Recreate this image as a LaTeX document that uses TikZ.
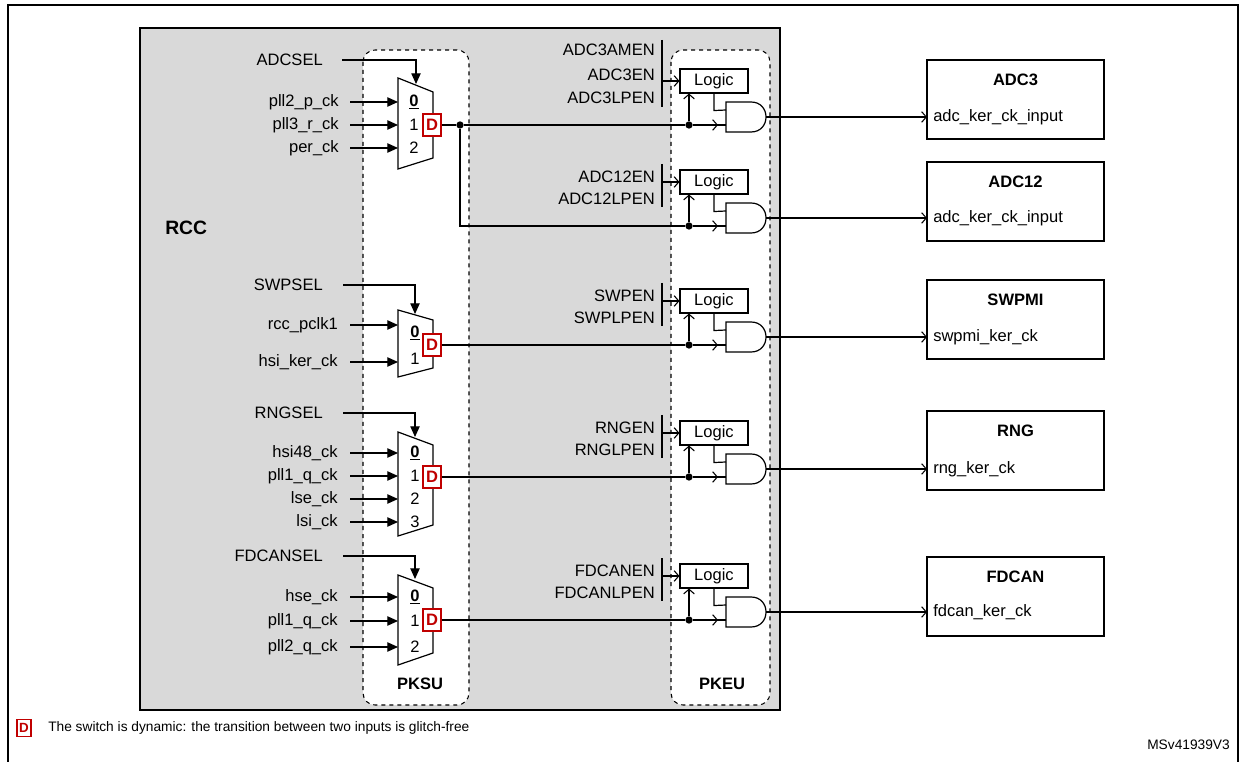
\documentclass[tikz,border=0pt]{standalone}
\usepackage{fontspec}
\setmainfont{Liberation Sans}
\usetikzlibrary{arrows.meta}
\definecolor{rccgray}{RGB}{217,217,217}
\definecolor{dred}{RGB}{192,0,0}
\begin{document}
\begin{tikzpicture}[x=0.75pt,y=-0.75pt,
 lbl/.style={font=\fontsize{12.4}{14}\selectfont, inner sep=0},
 lblr/.style={lbl,anchor=east},
 wire/.style={line width=0.9pt},
 fin/.style={-{Triangle[length=8pt,width=7pt]}, line width=0.9pt},
 oin/.style={-{Straight Barb[length=3.5pt,width=8pt]}, line width=0.8pt},
 dbox/.style={draw=dred, fill=white, line width=1.1pt, minimum width=13.5pt, minimum height=16.5pt, inner sep=0, text=dred, font=\fontsize{12.4}{14}\selectfont\bfseries},
 logic/.style={draw, fill=white, line width=0.8pt, minimum width=51pt, minimum height=18pt, inner sep=0, font=\fontsize{12.4}{14}\selectfont},
 dot/.style={circle, fill, inner sep=0, minimum size=5.5pt},
 blk/.style={draw, line width=1.8pt, minimum width=132.75pt, minimum height=59pt, inner sep=0},
 mux/.style={draw, fill=white, line width=0.9pt},
 pk/.style={draw, dashed, fill=white, line width=0.8pt, rounded corners=9pt},
 bold/.style={font=\fontsize{12.4}{14}\selectfont\bfseries, inner sep=0}]
\useasboundingbox (0,0) rectangle (1242,762);
\draw[line width=1pt] (8,775) -- (8,5) -- (1238,5) -- (1238,775);
% RCC
\draw[fill=rccgray, line width=1.8pt] (140,28) rectangle (780,710);
\node[font=\fontsize{14.5}{16}\selectfont\bfseries, anchor=west, inner sep=0] (rcc) at (165,228) {RCC};
\draw[pk] (363,50) rectangle (469,705);
\draw[pk] (671,50) rectangle (770,705);
\node[bold] (pksu) at (420,684) {PKSU};
\node[bold] (pkeu) at (722,684) {PKEU};
% ---- muxes
% ADC
\draw[mux] (398,78) -- (433,92) -- (433,158) -- (398,169) -- cycle;
\node[lblr] (adcsel) at (323,60) {ADCSEL};
\coordinate (adcselt) at (416,84);
\draw[fin] (adcsel.east) ++(19,0) -| (adcselt);
\foreach \y/\t/\n [count=\i] in {102/pll2\_p\_ck/{\underline{\textbf{0}}},125/pll3\_r\_ck/1,148/per\_ck/2}{
  \node[lblr] (adcin\i) at (339,\y) {\t};
  \node[lbl] (adcn\i) at (414,\y) {\n};
  \draw[fin] (adcin\i.east) ++(11,0) -- (398,\y);
}
\node[dbox] (dadc) at (432,125) {D};
% SWP
\draw[mux] (398,310) -- (433,320) -- (433,368) -- (398,377) -- cycle;
\node[lblr] (swpsel) at (323,285) {SWPSEL};
\coordinate (swpselt) at (415,314);
\draw[fin] (swpsel.east) ++(20,0) -| (swpselt);
\foreach \y/\t [count=\i] in {325/rcc\_pclk1,362/hsi\_ker\_ck}{
  \node[lblr] (swpin\i) at (338,\y) {\t};
  \draw[fin] (swpin\i.east) ++(12,0) -- (398,\y);
}
\node[lbl] (swpn1) at (415,333) {\underline{\textbf{0}}};
\node[lbl] (swpn2) at (415,359) {1};
\node[dbox] (dswp) at (432,345) {D};
% RNG
\draw[mux] (398,432) -- (433,445) -- (433,525) -- (398,536) -- cycle;
\node[lblr] (rngsel) at (323,413) {RNGSEL};
\coordinate (rngselt) at (415,437);
\draw[fin] (rngsel.east) ++(20,0) -| (rngselt);
\foreach \y/\t/\n [count=\i] in {453/hsi48\_ck/{\underline{\textbf{0}}},476/pll1\_q\_ck/1,499/lse\_ck/2,522/lsi\_ck/3}{
  \node[lblr] (rngin\i) at (338,\y) {\t};
  \node[lbl] (rngn\i) at (415,\y) {\n};
  \draw[fin] (rngin\i.east) ++(12,0) -- (398,\y);
}
\node[dbox] (drng) at (432,477) {D};
% FDCAN
\draw[mux] (398,575) -- (433,588) -- (433,653) -- (398,665) -- cycle;
\node[lblr] (fdsel) at (323,556) {FDCANSEL};
\coordinate (fdselt) at (415,579);
\draw[fin] (fdsel.east) ++(20,0) -| (fdselt);
\foreach \y/\t/\n [count=\i] in {597/hse\_ck/{\underline{\textbf{0}}},621/pll1\_q\_ck/1,647/pll2\_q\_ck/2}{
  \node[lblr] (fdin\i) at (338,\y) {\t};
  \node[lbl] (fdn\i) at (415,\y) {\n};
  \draw[fin] (fdin\i.east) ++(12,0) -- (398,\y);
}
\node[dbox] (dfd) at (432,620) {D};
% ---- PKEU units and peripherals
\foreach \nm/\c/\top/\ti/\po in {u1/125/60/ADC3/adc\_ker\_ck\_input, u2/226/162/ADC12/adc\_ker\_ck\_input, u3/345/280/SWPMI/swpmi\_ker\_ck, u4/477/411/RNG/rng\_ker\_ck, u5/620/557/FDCAN/fdcan\_ker\_ck}{
  \node[logic] (\nm log) at (714,\c-44) {Logic};
  \coordinate (\nm a) at (726,\c);
  \draw[fill=white, line width=0.9pt] (726,\c-23) -- (751,\c-23) .. controls (771,\c-23) and (771,\c+7) .. (751,\c+7) -- (726,\c+7) -- cycle;
  \coordinate (\nm o) at (766,\c-8);
  \coordinate (\nm b) at (662,\c-44);
  \node[dot] (\nm dot) at (689,\c) {};
  \draw[wire] (\nm log.south) -- ++(0,17) -- (726,\c-15);
  \draw[oin] (\nm dot) -- (\nm dot |- \nm log.south);
  \draw[oin] (\nm b) -- (\nm log.west);
  \draw[oin] (\nm dot) -- (718,\c);
  \draw[wire] (716,\c) -- (\nm a);
  \node[blk] (\nm blk) at (1015.5,\top+39.5) {};
  \node[bold] (\nm ti) at (1015.5,\top+20) {\ti};
  \node[lbl, anchor=west] (\nm po) at (933,\c-8) {\po};
  \coordinate (\nm in) at (927,\c-8);
  \draw[oin] (\nm o) -- (\nm in);
}
% enable labels
\draw[line width=0.9pt] (662,40) -- (662,107);
\node[lblr] (e1a) at (655,50) {ADC3AMEN};
\node[lblr] (e1b) at (655,75) {ADC3EN};
\node[lblr] (e1c) at (655,98) {ADC3LPEN};
\foreach \c/\la/\lb [count=\i] in {226/ADC12EN/ADC12LPEN,345/SWPEN/SWPLPEN,477/RNGEN/RNGLPEN,620/FDCANEN/FDCANLPEN}{
  \draw[line width=0.9pt] (662,\c-62) -- (662,\c-19);
  \node[lblr] (ea\i) at (655,\c-49) {\la};
  \node[lblr] (eb\i) at (655,\c-27) {\lb};
}
% clock paths
\node[dot] (adcsplit) at (460,125) {};
\draw[wire] (dadc.east) -- (adcsplit) -- (u1dot);
\draw[wire] (adcsplit) |- (u2dot);
\draw[wire] (dswp.east) -- (u3dot);
\draw[wire] (drng.east) -- (u4dot);
\draw[wire] (dfd.east) -- (u5dot);
% footnote
\node[dbox, font=\fontsize{10}{12}\selectfont\bfseries, minimum width=10.5pt, minimum height=12.5pt] (dnote) at (24,728) {D};
\node[anchor=west, font=\fontsize{10.3}{12}\selectfont, inner sep=0] (note) at (48,728) {The switch is dynamic: the transition between two inputs is glitch-free};
\node[anchor=east, font=\fontsize{10.3}{12}\selectfont, inner sep=0] (ms) at (1230,745) {MSv41939V3};
\end{tikzpicture}
\end{document}
